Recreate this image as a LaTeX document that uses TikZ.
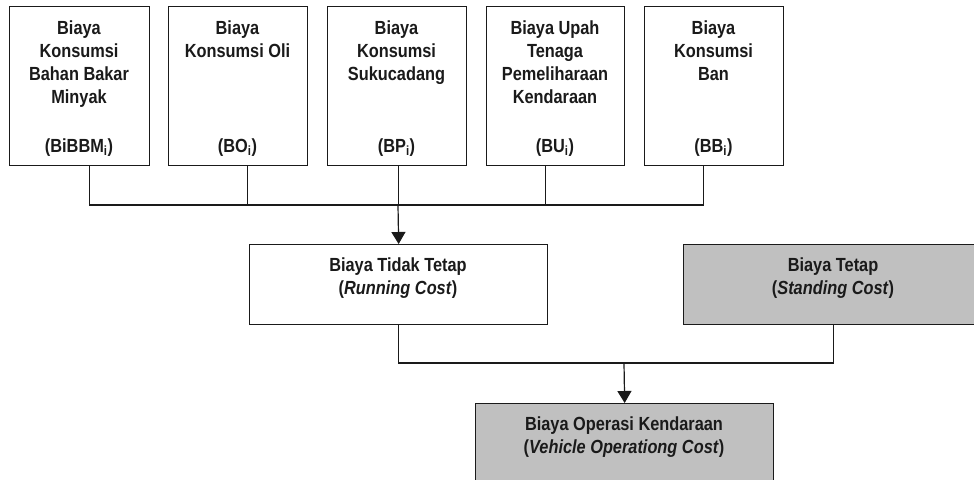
\documentclass[tikz,border=0pt]{standalone}
\usepackage{fontspec}
\setmainfont{Liberation Sans}[FakeStretch=0.86]
\usetikzlibrary{arrows.meta}
\definecolor{boxgray}{HTML}{C0C0C0}
\definecolor{ink}{HTML}{1A1A1A}
\tikzset{
  box/.style={draw=ink, line width=1.3pt, rectangle, inner sep=0pt, anchor=north west},
  graybox/.style={box, fill=boxgray},
  txt/.style={inner sep=0pt, align=center, text=ink, font=\fontsize{19}{23}\selectfont\bfseries},
  conn/.style={draw=ink, line width=1.2pt},
  arr/.style={conn, -{Triangle[width=14pt,length=12pt]}}
}
\begin{document}
\begin{tikzpicture}[x=1pt,y=-1pt]
\useasboundingbox (0,0) rectangle (974,479);
\clip (0,0) rectangle (974,479);
% top boxes
\node[box, minimum width=140pt, minimum height=159pt] (b1) at (9,6) {};
\node[box, minimum width=139pt, minimum height=159pt] (b2) at (168,6) {};
\node[box, minimum width=139pt, minimum height=159pt] (b3) at (327,6) {};
\node[box, minimum width=138pt, minimum height=159pt] (b4) at (486,6) {};
\node[box, minimum width=139pt, minimum height=159pt] (b5) at (644,6) {};
\node[txt, anchor=north] (t1) at (79,21) {Biaya\\Konsumsi\\Bahan Bakar\\Minyak};
\node[txt, anchor=north] (t2) at (237.5,21) {Biaya\\Konsumsi Oli};
\node[txt, anchor=north] (t3) at (396.5,21) {Biaya\\Konsumsi\\Sukucadang};
\node[txt, anchor=north] (t4) at (555,21) {Biaya Upah\\Tenaga\\Pemeliharaan\\Kendaraan};
\node[txt, anchor=north] (t5) at (713.5,21) {Biaya\\Konsumsi\\Ban};
\node[txt, anchor=base] (c1) at (79,152) {(BiBBM\textsubscript{i})};
\node[txt, anchor=base] (c2) at (237.5,152) {(BO\textsubscript{i})};
\node[txt, anchor=base] (c3) at (396.5,152) {(BP\textsubscript{i})};
\node[txt, anchor=base] (c4) at (555,152) {(BU\textsubscript{i})};
\node[txt, anchor=base] (c5) at (713.5,152) {(BB\textsubscript{i})};
% middle boxes
\node[box, minimum width=298pt, minimum height=80pt] (run) at (249,244) {};
\node[graybox, minimum width=300pt, minimum height=80pt] (stand) at (683,244) {};
\node[txt, anchor=north] (trun) at (398,258) {Biaya Tidak Tetap\\(\textit{Running Cost})};
\node[txt, anchor=north] (tstand) at (833,258) {Biaya Tetap\\(\textit{Standing Cost})};
% bottom box
\node[graybox, minimum width=298pt, minimum height=90pt] (bot) at (475,403) {};
\node[txt, anchor=north] (tbot) at (624,417) {Biaya Operasi Kendaraan\\(\textit{Vehicle Operationg Cost})};
% connectors
\coordinate (j) at (398,205);
\coordinate (k) at (624,363);
\draw[conn] ([xshift=10pt]b1.south) |- (j);
\draw[conn] ([xshift=9.5pt]b2.south) |- (j);
\draw[conn] ([xshift=1.5pt]b3.south) |- (j);
\draw[conn] ([xshift=-10pt]b4.south) |- (j);
\draw[conn] ([xshift=-10.5pt]b5.south) |- (j);
\draw[arr] (j) -- (run.north);
\draw[conn] (run.south) |- (k);
\draw[conn] (stand.south) |- (k);
\draw[arr] (k) -- (bot.north);
\end{tikzpicture}
\end{document}
